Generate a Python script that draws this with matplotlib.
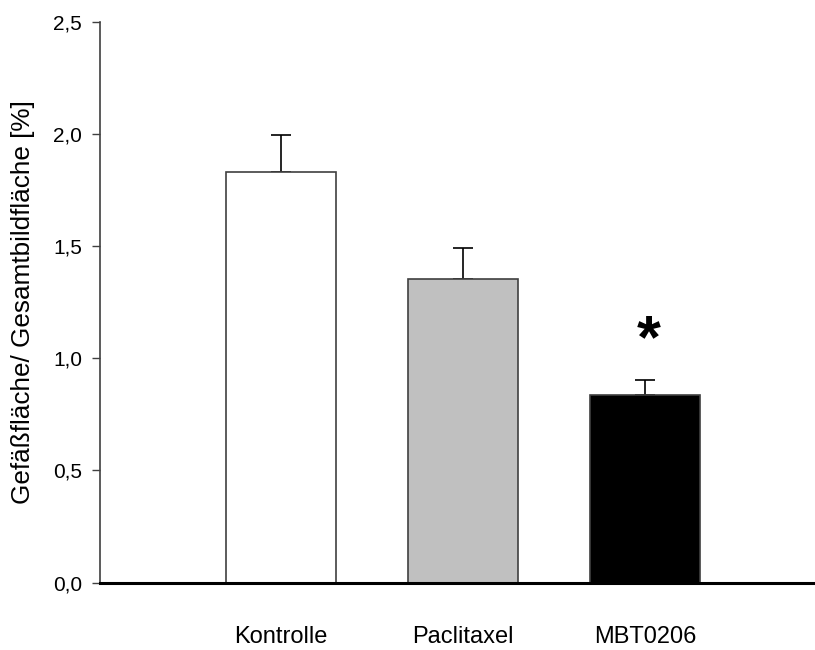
import numpy as np
import matplotlib.pyplot as plt
from matplotlib.ticker import FuncFormatter

plt.rcParams['font.family'] = ['Liberation Sans', 'DejaVu Sans']

# Gefäßfläche je Gruppe (Mittelwert + SEM)
gruppen = ['Kontrolle', 'Paclitaxel', 'MBT0206']
mittelwert = [1.83, 1.352, 0.837]
sem = [0.166, 0.14, 0.068]
farben = ['white', '#c0c0c0', 'black']
signifikant = [False, False, True]

fig = plt.figure(figsize=(8.15, 6.5), dpi=100)
ax = fig.add_axes([0.1227, 0.1038, 0.8773, 0.8622])

x = np.arange(len(gruppen))
ax.bar(x, mittelwert, width=0.6, color=farben, edgecolor='#404040', linewidth=1.2, zorder=2)
ax.errorbar(x, mittelwert, yerr=[np.zeros(len(sem)), sem], fmt='none',
            ecolor='black', elinewidth=1.2, capsize=7.5, capthick=1.2, zorder=1)

for xi, m, s, sig in zip(x, mittelwert, sem, signifikant):
    if sig:
        ax.text(xi + 0.02, m + s + 0.04, '*', ha='center', va='bottom',
                fontsize=44, fontweight='bold')

ax.set_xlim(-0.995, 2.934)
ax.set_ylim(0, 2.5)
ax.set_yticks(np.arange(0, 2.51, 0.5))
ax.yaxis.set_major_formatter(FuncFormatter(lambda v, p: f'{v:.1f}'.replace('.', ',')))
ax.set_xticks(x)
ax.set_xticklabels(gruppen)
ax.tick_params(axis='x', length=0, pad=31, labelsize=17)
ax.tick_params(axis='y', direction='out', length=6, width=1, color='#404040',
               labelsize=15, pad=7)
ax.set_ylabel('Gefäßfläche/ Gesamtbildfläche [%]', fontsize=18.8, labelpad=13)

for s in ['top', 'right']:
    ax.spines[s].set_visible(False)
ax.spines['left'].set_color('#404040')
ax.spines['left'].set_linewidth(1.2)
ax.spines['bottom'].set_linewidth(2.2)
ax.spines['bottom'].set_zorder(3)

fig.savefig('out.png', dpi=100)
